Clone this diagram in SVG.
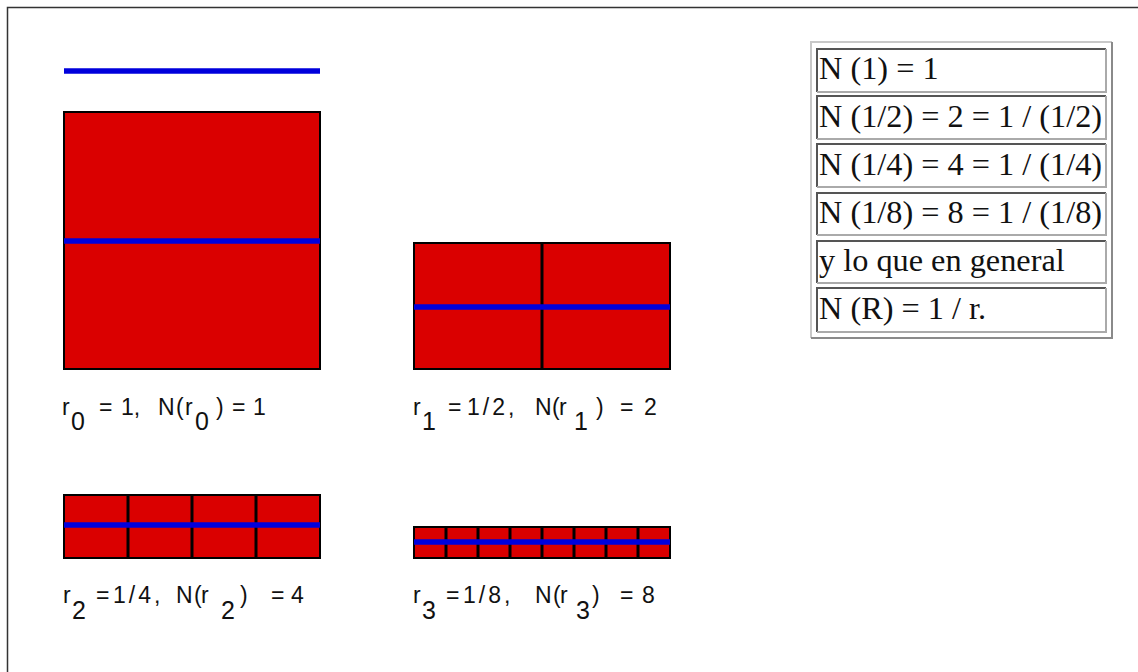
<svg xmlns="http://www.w3.org/2000/svg" width="1138" height="672" viewBox="0 0 1138 672">
<style>
.frame{fill:none;stroke:#333;stroke-width:1.5}
.red{fill:#da0000;stroke:#000;stroke-width:2}
.div{stroke:#000;stroke-width:3}
.blue{stroke:#0000dc;stroke-width:5.5}
.lbl{font-family:"Liberation Sans",Arial,sans-serif;font-size:23px;fill:#111}
.frac{letter-spacing:3px}
.sub{font-family:"Liberation Sans",Arial,sans-serif;font-size:25px;fill:#111}
.tout-l{stroke:#c8c8c8;stroke-width:2;fill:none}
.tout-d{stroke:#8a8a8a;stroke-width:2;fill:none}
.cell-d{stroke:#555;stroke-width:2;fill:none}
.cell-l{stroke:#aaa;stroke-width:2;fill:none}
.tt{font-family:"Liberation Serif","Times New Roman",serif;font-size:32.3px;fill:#111}
</style>
<path class="frame" d="M7.5,672 V7.5 H1138"/>
<line class="blue" x1="64" y1="71" x2="320" y2="71"/>
<g id="square0">
<rect class="red" x="64" y="112" width="256" height="257"/>
<line class="blue" x1="64" y1="241" x2="320" y2="241"/>
</g>
<g id="square1">
<rect class="red" x="414" y="243" width="256" height="126"/>
<line class="div" x1="542" y1="243" x2="542" y2="369"/>
<line class="blue" x1="414" y1="307" x2="670" y2="307"/>
</g>
<g id="square2">
<rect class="red" x="64" y="495" width="256" height="63"/>
<line class="div" x1="128" y1="495" x2="128" y2="558"/>
<line class="div" x1="192" y1="495" x2="192" y2="558"/>
<line class="div" x1="256" y1="495" x2="256" y2="558"/>
<line class="blue" x1="64" y1="525" x2="320" y2="525"/>
</g>
<g id="square3">
<rect class="red" x="414" y="527" width="256" height="31"/>
<line class="div" x1="446" y1="527" x2="446" y2="558"/>
<line class="div" x1="478" y1="527" x2="478" y2="558"/>
<line class="div" x1="510" y1="527" x2="510" y2="558"/>
<line class="div" x1="542" y1="527" x2="542" y2="558"/>
<line class="div" x1="574" y1="527" x2="574" y2="558"/>
<line class="div" x1="606" y1="527" x2="606" y2="558"/>
<line class="div" x1="638" y1="527" x2="638" y2="558"/>
<line class="blue" x1="414" y1="542" x2="670" y2="542"/>
</g>
<g id="label0">
<text class="lbl" x="62" y="415">r</text><text class="sub" x="71" y="430">0</text>
<text class="lbl" x="99" y="415">=</text><text class="lbl" x="121" y="415">1,</text>
<text class="lbl" x="158" y="415">N</text><text class="lbl" x="176" y="415">(</text><text class="lbl" x="185" y="415">r</text>
<text class="sub" x="195" y="430">0</text><text class="lbl" x="216" y="415">)</text>
<text class="lbl" x="232" y="415">=</text><text class="lbl" x="253" y="415">1</text>
</g>
<g id="label1">
<text class="lbl" x="413" y="415">r</text><text class="sub" x="422" y="430">1</text>
<text class="lbl" x="448" y="415">=</text><text class="lbl frac" x="467" y="415">1/2,</text>
<text class="lbl" x="535" y="415">N</text><text class="lbl" x="552" y="415">(</text><text class="lbl" x="559" y="415">r</text>
<text class="sub" x="574" y="430">1</text><text class="lbl" x="596" y="415">)</text>
<text class="lbl" x="620" y="415">=</text><text class="lbl" x="644" y="415">2</text>
</g>
<g id="label2">
<text class="lbl" x="63" y="603">r</text><text class="sub" x="72" y="619">2</text>
<text class="lbl" x="96" y="603">=</text><text class="lbl frac" x="113" y="603">1/4,</text>
<text class="lbl" x="176" y="603">N</text><text class="lbl" x="194" y="603">(</text><text class="lbl" x="201" y="603">r</text>
<text class="sub" x="221" y="619">2</text><text class="lbl" x="240" y="603">)</text>
<text class="lbl" x="271" y="603">=</text><text class="lbl" x="291" y="603">4</text>
</g>
<g id="label3">
<text class="lbl" x="413" y="603">r</text><text class="sub" x="422" y="619">3</text>
<text class="lbl" x="446" y="603">=</text><text class="lbl frac" x="463" y="603">1/8,</text>
<text class="lbl" x="535" y="603">N</text><text class="lbl" x="553" y="603">(</text><text class="lbl" x="560" y="603">r</text>
<text class="sub" x="576" y="619">3</text><text class="lbl" x="592" y="603">)</text>
<text class="lbl" x="620" y="603">=</text><text class="lbl" x="642" y="603">8</text>
</g>
<g id="table">
<path class="tout-l" d="M811,338 V42 H1112"/>
<path class="tout-d" d="M1112,42 V338 H811"/>
<g id="row1"><path class="cell-d" d="M817,92 V49 H1106"/><path class="cell-l" d="M1106,49 V92 H817"/><text class="tt" x="819" y="79">N (1) = 1</text></g>
<g id="row2"><path class="cell-d" d="M817,139 V96 H1106"/><path class="cell-l" d="M1106,96 V139 H817"/><text class="tt" x="819" y="127">N (1/2) = 2 = 1 / (1/2)</text></g>
<g id="row3"><path class="cell-d" d="M817,187 V144 H1106"/><path class="cell-l" d="M1106,144 V187 H817"/><text class="tt" x="819" y="175">N (1/4) = 4 = 1 / (1/4)</text></g>
<g id="row4"><path class="cell-d" d="M817,235 V193 H1106"/><path class="cell-l" d="M1106,193 V235 H817"/><text class="tt" x="819" y="223">N (1/8) = 8 = 1 / (1/8)</text></g>
<g id="row5"><path class="cell-d" d="M817,283 V241 H1106"/><path class="cell-l" d="M1106,241 V283 H817"/><text class="tt" x="819" y="271">y lo que en general</text></g>
<g id="row6"><path class="cell-d" d="M817,332 V288 H1106"/><path class="cell-l" d="M1106,288 V332 H817"/><text class="tt" x="819" y="319">N (R) = 1 / r.</text></g>
</g>
</svg>
